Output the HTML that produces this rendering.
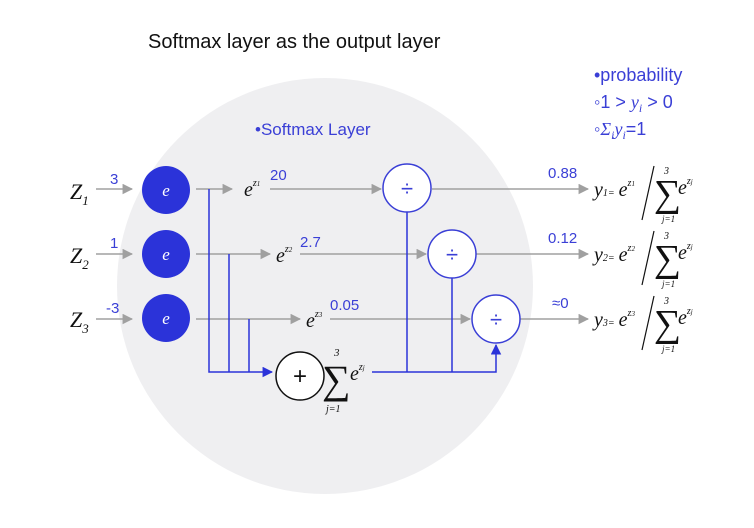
<!DOCTYPE html>
<html><head><meta charset="utf-8"><style>
body{margin:0;background:#fff}
svg{display:block;font-family:"Liberation Sans",sans-serif}
</style></head><body>
<svg width="754" height="528" viewBox="0 0 754 528">
<defs>
<marker id="ag" viewBox="0 0 10 10" refX="9" refY="5" markerWidth="7" markerHeight="7" orient="auto"><path d="M0,0L10,5L0,10z" fill="#a0a0a0"/></marker>
<marker id="ab" viewBox="0 0 10 10" refX="9" refY="5" markerWidth="7" markerHeight="7" orient="auto"><path d="M0,0L10,5L0,10z" fill="#2b33d9"/></marker>
</defs>
<text x="148" y="48" font-size="20" fill="#111">Softmax layer as the output layer</text>
<circle cx="325" cy="286" r="208" fill="#efeff1"/>
<text x="255" y="135" font-size="17" fill="#3a3fd6">•Softmax Layer</text>
<g fill="#3a3fd6" font-size="18">
<text x="594" y="81">•probability</text>
<text x="594" y="108">◦1 &gt; <tspan font-style="italic" font-family="Liberation Serif">y<tspan font-size="12" dy="4">i</tspan></tspan><tspan dy="-4"> &gt; 0</tspan></text>
<text x="594" y="135">◦<tspan font-style="italic" font-family="Liberation Serif">Σ<tspan font-size="12" dy="4">i</tspan><tspan dy="-4">y</tspan><tspan font-size="12" dy="4">i</tspan></tspan><tspan dy="-4">=1</tspan></text>
</g>
<g stroke="#a0a0a0" stroke-width="1.5" fill="none">
<line x1="96" y1="189" x2="132" y2="189" marker-end="url(#ag)"/>
<line x1="96" y1="254" x2="132" y2="254" marker-end="url(#ag)"/>
<line x1="96" y1="319" x2="132" y2="319" marker-end="url(#ag)"/>
<line x1="196" y1="189" x2="232" y2="189" marker-end="url(#ag)"/>
<line x1="196" y1="254" x2="270" y2="254" marker-end="url(#ag)"/>
<line x1="196" y1="319" x2="300" y2="319" marker-end="url(#ag)"/>
<line x1="270" y1="189" x2="381" y2="189" marker-end="url(#ag)"/>
<line x1="300" y1="254" x2="426" y2="254" marker-end="url(#ag)"/>
<line x1="330" y1="319" x2="470" y2="319" marker-end="url(#ag)"/>
<line x1="432" y1="189" x2="588" y2="189" marker-end="url(#ag)"/>
<line x1="476" y1="254" x2="588" y2="254" marker-end="url(#ag)"/>
<line x1="520" y1="319" x2="588" y2="319" marker-end="url(#ag)"/>
</g>
<g stroke="#2b33d9" stroke-width="1.5" fill="none">
<polyline points="209,189 209,372 272,372" marker-end="url(#ab)"/>
<line x1="229" y1="254" x2="229" y2="372"/>
<line x1="249" y1="319" x2="249" y2="372"/>
<polyline points="372,372 496,372 496,345" marker-end="url(#ab)"/>
<line x1="407" y1="212" x2="407" y2="372"/>
<line x1="452" y1="278" x2="452" y2="372"/>
</g>
<g fill="#2b33d9">
<circle cx="166" cy="190" r="24"/><circle cx="166" cy="254" r="24"/><circle cx="166" cy="318" r="24"/>
</g>
<g fill="#fff" font-size="17" font-style="italic" font-family="Liberation Serif" text-anchor="middle">
<text x="166" y="196">e</text><text x="166" y="260">e</text><text x="166" y="324">e</text>
</g>
<g fill="#fff" stroke="#3a3fd6" stroke-width="1.5">
<circle cx="407" cy="188" r="24"/><circle cx="452" cy="254" r="24"/><circle cx="496" cy="319" r="24"/>
</g>
<g fill="#3a3fd6" font-size="22" text-anchor="middle">
<text x="407" y="196">÷</text><text x="452" y="262">÷</text><text x="496" y="327">÷</text>
</g>
<circle cx="300" cy="376" r="24" fill="#fff" stroke="#111" stroke-width="1.5"/>
<text x="300" y="384" font-size="24" text-anchor="middle" fill="#111">+</text>
<g font-family="Liberation Serif" font-style="italic" fill="#111">
<text x="70" y="199" font-size="22">Z<tspan font-size="13" dy="6">1</tspan></text>
<text x="70" y="263" font-size="22">Z<tspan font-size="13" dy="6">2</tspan></text>
<text x="70" y="327" font-size="22">Z<tspan font-size="13" dy="6">3</tspan></text>
</g>
<g fill="#3a3fd6" font-size="15">
<text x="110" y="184">3</text><text x="110" y="248">1</text><text x="106" y="313">-3</text>
<text x="270" y="180">20</text><text x="300" y="247">2.7</text><text x="330" y="310">0.05</text>
<text x="548" y="178">0.88</text><text x="548" y="243">0.12</text><text x="552" y="308">≈0</text>
</g>
<g font-family="Liberation Serif" font-style="italic" fill="#111">
<text x="244" y="196" font-size="20">e<tspan font-size="10" dy="-10">z</tspan><tspan font-size="7">1</tspan></text>
<text x="276" y="262" font-size="20">e<tspan font-size="10" dy="-10">z</tspan><tspan font-size="7">2</tspan></text>
<text x="306" y="327" font-size="20">e<tspan font-size="10" dy="-10">z</tspan><tspan font-size="7">3</tspan></text>
<text x="334" y="356" font-size="11">3</text>
<text x="322" y="393" font-size="40" font-style="normal">∑</text>
<text x="350" y="380" font-size="20">e<tspan font-size="10" dy="-10">z</tspan><tspan font-size="7">j</tspan></text>
<text x="326" y="412" font-size="10">j=1</text>
</g>
<g font-family="Liberation Serif" font-style="italic" fill="#111">
<g transform="translate(594,0)">
<text x="0" y="196" font-size="20">y<tspan font-size="10">1=</tspan><tspan dx="4">e</tspan><tspan font-size="10" dy="-10">z</tspan><tspan font-size="7">1</tspan></text>
<line x1="60" y1="166" x2="48" y2="220" stroke="#111" stroke-width="1.2"/>
<text x="70" y="174" font-size="10">3</text><text x="60" y="206" font-size="38" font-style="normal">∑</text>
<text x="84" y="194" font-size="20">e<tspan font-size="10" dy="-10">z</tspan><tspan font-size="7">j</tspan></text><text x="68" y="222" font-size="9">j=1</text>
</g>
<g transform="translate(594,65)">
<text x="0" y="196" font-size="20">y<tspan font-size="10">2=</tspan><tspan dx="4">e</tspan><tspan font-size="10" dy="-10">z</tspan><tspan font-size="7">2</tspan></text>
<line x1="60" y1="166" x2="48" y2="220" stroke="#111" stroke-width="1.2"/>
<text x="70" y="174" font-size="10">3</text><text x="60" y="206" font-size="38" font-style="normal">∑</text>
<text x="84" y="194" font-size="20">e<tspan font-size="10" dy="-10">z</tspan><tspan font-size="7">j</tspan></text><text x="68" y="222" font-size="9">j=1</text>
</g>
<g transform="translate(594,130)">
<text x="0" y="196" font-size="20">y<tspan font-size="10">3=</tspan><tspan dx="4">e</tspan><tspan font-size="10" dy="-10">z</tspan><tspan font-size="7">3</tspan></text>
<line x1="60" y1="166" x2="48" y2="220" stroke="#111" stroke-width="1.2"/>
<text x="70" y="174" font-size="10">3</text><text x="60" y="206" font-size="38" font-style="normal">∑</text>
<text x="84" y="194" font-size="20">e<tspan font-size="10" dy="-10">z</tspan><tspan font-size="7">j</tspan></text><text x="68" y="222" font-size="9">j=1</text>
</g>
</g>
</svg>
</body></html>
